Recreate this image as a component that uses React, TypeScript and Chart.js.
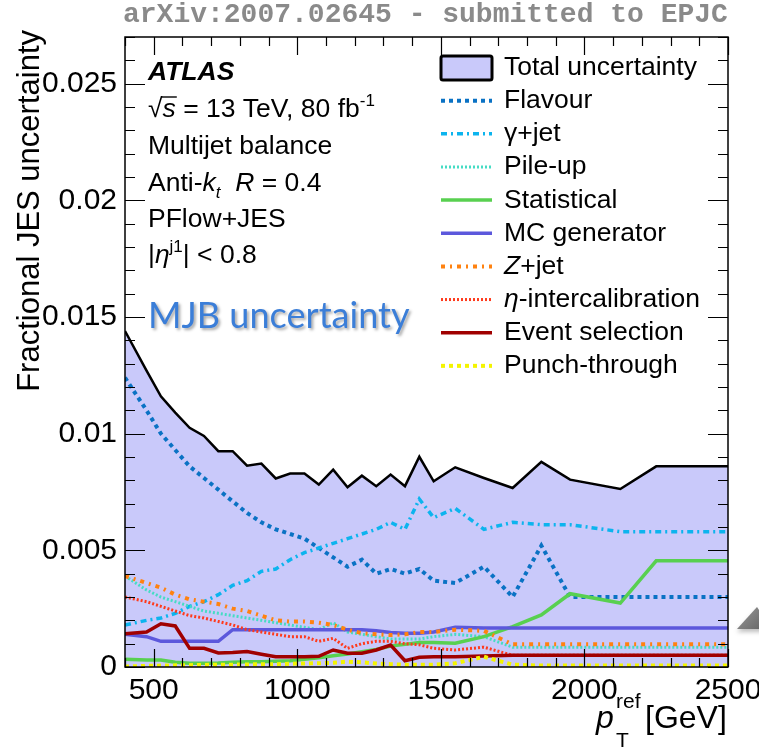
import React, { useEffect, useRef } from "react";
import { Chart, registerables } from "chart.js";

Chart.register(...registerables);

// Jet pT bin centres (GeV)
const PT = [400, 475, 525, 575, 625, 675, 725, 775, 825, 875, 925, 975, 1025, 1075, 1125, 1175, 1225, 1275, 1325, 1375, 1425, 1475, 1550, 1650, 1750, 1850, 1950, 2125, 2250, 2500];

const TOTAL = [0.0144, 0.0127, 0.0116, 0.0109, 0.01025, 0.0099, 0.00925, 0.00925, 0.00863, 0.00872, 0.00808, 0.00829, 0.00829, 0.00782, 0.00846, 0.0077, 0.0082, 0.00775, 0.00825, 0.00775, 0.00901, 0.00796, 0.00856, 0.0081, 0.00767, 0.00879, 0.00803, 0.00763, 0.0086, 0.0086];
const FLAVOUR = [0.0124, 0.011, 0.01, 0.0093, 0.0086, 0.0081, 0.0076, 0.0071, 0.0066, 0.0062, 0.0059, 0.0057, 0.0055, 0.0051, 0.0047, 0.0043, 0.0046, 0.004, 0.0042, 0.004, 0.0042, 0.0037, 0.0036, 0.0043, 0.003, 0.0052, 0.003, 0.003, 0.003, 0.003];
const GAMMA_JET = [0.0018, 0.002, 0.0021, 0.0023, 0.0026, 0.0028, 0.0031, 0.0035, 0.0037, 0.0041, 0.0042, 0.0046, 0.0049, 0.0051, 0.0053, 0.0055, 0.0057, 0.0059, 0.0062, 0.0059, 0.0072, 0.0064, 0.0068, 0.0059, 0.0062, 0.0061, 0.0061, 0.0058, 0.0058, 0.0058];
const PILE_UP = [0.0039, 0.0033, 0.003, 0.0028, 0.0026, 0.0024, 0.0023, 0.0022, 0.0021, 0.002, 0.0019, 0.0018, 0.0017, 0.0016, 0.0019, 0.0015, 0.0014, 0.0013, 0.0012, 0.0012, 0.0012, 0.0013, 0.0014, 0.0013, 0.00085, 0.00085, 0.00085, 0.00085, 0.00085, 0.00085];
const STATISTICAL = [0.00033, 0.0003, 0.0003, 0.0002, 0.00016, 0.00016, 0.00017, 0.0002, 0.00022, 0.00023, 0.00025, 0.00027, 0.00033, 0.0004, 0.00048, 0.00056, 0.00065, 0.00075, 0.0009, 0.00097, 0.00105, 0.00105, 0.00102, 0.0013, 0.00173, 0.00223, 0.00314, 0.00274, 0.00455, 0.00455];
const MC_GENERATOR = [0.0014, 0.0013, 0.0011, 0.0011, 0.0011, 0.0011, 0.0011, 0.0016, 0.0016, 0.0016, 0.0016, 0.0016, 0.0016, 0.0016, 0.0016, 0.0016, 0.0016, 0.00155, 0.00148, 0.00145, 0.00145, 0.0015, 0.0017, 0.00167, 0.00167, 0.00167, 0.00167, 0.00167, 0.00167, 0.00167];
const Z_JET = [0.0039, 0.0036, 0.0034, 0.0031, 0.0029, 0.0028, 0.0027, 0.0025, 0.0024, 0.0022, 0.002, 0.00195, 0.00195, 0.0019, 0.0018, 0.0016, 0.00145, 0.0014, 0.00137, 0.0014, 0.0015, 0.0015, 0.0016, 0.00155, 0.00097, 0.00097, 0.00097, 0.00097, 0.00097, 0.00097];
const ETA_INTERCAL = [0.003, 0.0028, 0.0026, 0.0024, 0.0022, 0.0021, 0.00195, 0.0018, 0.0016, 0.0015, 0.0014, 0.0013, 0.0013, 0.0011, 0.00123, 0.0008, 0.001, 0.0011, 0.0011, 0.001, 0.00095, 0.0008, 0.00073, 0.00085, 0.0005, 0.0005, 0.0005, 0.0005, 0.0005, 0.0005];
const EVENT_SELECTION = [0.00142, 0.0015, 0.00185, 0.00176, 0.0008, 0.0008, 0.0006, 0.00062, 0.00066, 0.00055, 0.00044, 0.00044, 0.00044, 0.00046, 0.00073, 0.00059, 0.00059, 0.00073, 0.00094, 0.00027, 0.00042, 0.00044, 0.00044, 0.00047, 0.0005, 0.0005, 0.0005, 0.0005, 0.0005, 0.0005];
const PUNCH_THROUGH = [0.00002, 0.00005, 0.00006, 0.00007, 0.00008, 0.00009, 0.0001, 0.0001, 0.00011, 0.00012, 0.00012, 0.00014, 0.00015, 0.00016, 0.00018, 0.00023, 0.0002, 0.00015, 0.00012, 0.0001, 0.0001, 0.0001, 0.00016, 0.00044, 0.0001, 0.00006, 0.00006, 0.00006, 0.00006, 0.00006];

const X_TICKS = [500, 1000, 1500, 2000, 2500];
const X_TICK_LABELS = ["500", "1000", "1500", "2000", "2500"];
const Y_TICKS = [0, 0.005, 0.01, 0.015, 0.02, 0.025];
const Y_TICK_LABELS = ["0", "0.005", "0.01", "0.015", "0.02", "0.025"];

const X_MIN = 400;
const X_MAX = 2500;
const Y_MIN = 0;
const Y_MAX = 0.027;
const X_MINOR_STEP = 100;
const X_MAJOR_STEP = 500;
const Y_MINOR_STEP = 0.001;
const Y_MAJOR_EVERY = 5;

const SANS = '"Liberation Sans", Arial, Helvetica, sans-serif';
const FILL = "rgb(201,201,250)";

type Style = { label: string; values: number[]; color: string; dash: number[]; width: number };

const COMPONENTS: Style[] = [
  { label: "Flavour", values: FLAVOUR, color: "#0a72c4", dash: [4, 4], width: 4 },
  { label: "γ+jet", values: GAMMA_JET, color: "#0cb4ee", dash: [6, 4, 2, 4], width: 3.5 },
  { label: "Pile-up", values: PILE_UP, color: "#46dcc4", dash: [2, 2], width: 3 },
  { label: "Statistical", values: STATISTICAL, color: "#58d050", dash: [], width: 3.5 },
  { label: "MC generator", values: MC_GENERATOR, color: "#5c58dc", dash: [], width: 3.5 },
  { label: "Z+jet", values: Z_JET, color: "#ff8210", dash: [4, 5, 2, 5], width: 4 },
  { label: "η-intercalibration", values: ETA_INTERCAL, color: "#ff3a1c", dash: [2, 2], width: 3 },
  { label: "Event selection", values: EVENT_SELECTION, color: "#a00000", dash: [], width: 3.5 },
  { label: "Punch-through", values: PUNCH_THROUGH, color: "#f4f400", dash: [4, 4], width: 4 },
];

const toPoints = (vals: number[]) => PT.map((x, i) => ({ x, y: vals[i] }));

type Run = { t: string; font: string; dy?: number; over?: boolean };

function drawRuns(ctx: CanvasRenderingContext2D, x: number, y: number, runs: Run[]) {
  let cx = x;
  for (const r of runs) {
    ctx.font = r.font;
    ctx.fillText(r.t, cx, y + (r.dy || 0));
    const w = ctx.measureText(r.t).width;
    if (r.over) {
      ctx.save();
      ctx.lineWidth = 1.4;
      ctx.beginPath();
      ctx.moveTo(cx - 1, y - 20);
      ctx.lineTo(cx + w + 1, y - 20);
      ctx.stroke();
      ctx.restore();
    }
    cx += w;
  }
  return cx;
}

const decorPlugin = {
  id: "atlasDecor",
  afterDraw(chart: any) {
    const { ctx, chartArea: a, scales } = chart;
    const xs = scales.x;
    const ys = scales.y;
    ctx.save();

    // frame
    ctx.strokeStyle = "#000";
    ctx.lineWidth = 1.5;
    ctx.strokeRect(a.left, a.top, a.right - a.left, a.bottom - a.top);

    // inward ticks on all four sides
    ctx.lineWidth = 1.2;
    ctx.beginPath();
    for (let v = X_MIN; v <= X_MAX; v += X_MINOR_STEP) {
      const px = Math.round(xs.getPixelForValue(v)) + 0.5;
      const len = v % X_MAJOR_STEP === 0 ? 18 : 9;
      ctx.moveTo(px, a.bottom);
      ctx.lineTo(px, a.bottom - len);
      ctx.moveTo(px, a.top);
      ctx.lineTo(px, a.top + len);
    }
    const nY = Math.round((Y_MAX - Y_MIN) / Y_MINOR_STEP);
    for (let k = 0; k <= nY; k++) {
      const py = Math.round(ys.getPixelForValue(Y_MIN + k * Y_MINOR_STEP)) + 0.5;
      const len = k % Y_MAJOR_EVERY === 0 ? 20 : 10;
      ctx.moveTo(a.left, py);
      ctx.lineTo(a.left + len, py);
      ctx.moveTo(a.right, py);
      ctx.lineTo(a.right - len, py);
    }
    ctx.stroke();

    ctx.fillStyle = "#000";
    ctx.textAlign = "left";
    ctx.textBaseline = "alphabetic";

    // y axis title
    ctx.save();
    ctx.translate(30, 30);
    ctx.rotate(-Math.PI / 2);
    ctx.textAlign = "right";
    ctx.textBaseline = "middle";
    ctx.font = `31px ${SANS}`;
    ctx.fillText("Fractional JES uncertainty", 0, 0);
    ctx.restore();

    // x axis title
    const xb = 728;
    ctx.textAlign = "left";
    ctx.font = `italic 32px ${SANS}`;
    ctx.fillText("p", 596, xb);
    ctx.font = `21px ${SANS}`;
    ctx.fillText("ref", 616, xb - 20);
    ctx.fillText("T", 616, xb + 19);
    ctx.font = `32px ${SANS}`;
    ctx.fillText("[GeV]", 645, xb);

    // header
    ctx.fillStyle = "#8a8a8a";
    ctx.font = `bold 28px "Liberation Mono", "DejaVu Sans Mono", monospace`;
    ctx.fillText("arXiv:2007.02645 - submitted to EPJC", 123, 22);

    // ATLAS label block
    ctx.fillStyle = "#000";
    const lx = 148;
    const f = `26.5px ${SANS}`;
    const fi = `italic 26.5px ${SANS}`;
    const fs = `17px ${SANS}`;
    drawRuns(ctx, lx, 80, [{ t: "ATLAS", font: `bold italic 26.5px ${SANS}` }]);
    drawRuns(ctx, lx, 117, [
      { t: "√", font: f },
      { t: "s", font: fi, over: true },
      { t: " = 13 TeV, 80 fb", font: f },
      { t: "-1", font: fs, dy: -11 },
    ]);
    drawRuns(ctx, lx, 153.5, [{ t: "Multijet balance", font: f }]);
    drawRuns(ctx, lx, 190.5, [
      { t: "Anti-", font: f },
      { t: "k", font: fi },
      { t: "t", font: `italic 17px ${SANS}`, dy: 7 },
      { t: "  ", font: f },
      { t: "R", font: fi },
      { t: " = 0.4", font: f },
    ]);
    drawRuns(ctx, lx, 227, [{ t: "PFlow+JES", font: f }]);
    drawRuns(ctx, lx, 263, [
      { t: "|", font: f },
      { t: "η", font: fi },
      { t: "j1", font: fs, dy: -11 },
      { t: "| < 0.8", font: f },
    ]);

    // highlighted caption
    ctx.save();
    const cap = "MJB uncertainty";
    ctx.font = `36px Lato, "Open Sans", sans-serif`;
    const cw = ctx.measureText(cap).width;
    const size = (36 * 262) / cw;
    ctx.font = `${size.toFixed(1)}px Lato, "Open Sans", sans-serif`;
    ctx.shadowColor = "rgba(0,0,0,0.35)";
    ctx.shadowBlur = 3;
    ctx.shadowOffsetX = 2;
    ctx.shadowOffsetY = 2;
    ctx.fillStyle = "#3b7ed8";
    ctx.fillText(cap, 148, 328);
    ctx.restore();

    // legend
    const legX = 441;
    const legW = 51;
    const textX = 504;
    const base0 = 75;
    const step = 33.15;
    const datasets = chart.data.datasets;
    datasets.forEach((ds: any, i: number) => {
      const by = base0 + step * i;
      const cy = by - 7.5;
      if (ds.fill) {
        ctx.save();
        ctx.fillStyle = ds.backgroundColor;
        ctx.strokeStyle = ds.borderColor;
        ctx.lineWidth = 3;
        ctx.beginPath();
        (ctx as any).roundRect(legX, cy - 11.5, legW, 24, 2);
        ctx.fill();
        ctx.stroke();
        ctx.restore();
      } else {
        ctx.save();
        ctx.strokeStyle = ds.borderColor;
        ctx.lineWidth = ds.borderWidth;
        ctx.setLineDash(ds.borderDash || []);
        ctx.beginPath();
        ctx.moveTo(legX, cy);
        ctx.lineTo(legX + legW, cy);
        ctx.stroke();
        ctx.restore();
      }
      ctx.fillStyle = "#000";
      const label: string = ds.label;
      if (/^[Zη]/.test(label)) {
        drawRuns(ctx, textX, by, [
          { t: label[0], font: fi },
          { t: label.slice(1), font: f },
        ]);
      } else {
        drawRuns(ctx, textX, by, [{ t: label, font: f }]);
      }
    });

    // side marker
    const grad = ctx.createLinearGradient(737, 607, 759, 629);
    grad.addColorStop(0, "#9a9a9a");
    grad.addColorStop(1, "#6a6a6a");
    ctx.save();
    ctx.shadowColor = "rgba(0,0,0,0.25)";
    ctx.shadowBlur = 4;
    ctx.shadowOffsetY = 3;
    ctx.fillStyle = grad;
    ctx.beginPath();
    ctx.moveTo(737, 629);
    ctx.lineTo(757, 607);
    ctx.lineTo(772, 629);
    ctx.closePath();
    ctx.fill();
    ctx.restore();

    ctx.restore();
  },
};

export default function App() {
  const ref = useRef<HTMLCanvasElement>(null);

  useEffect(() => {
    if (!ref.current) return;
    const n = COMPONENTS.length;
    const datasets: any[] = [
      {
        label: "Total uncertainty",
        data: toPoints(TOTAL),
        borderColor: "#000",
        backgroundColor: FILL,
        borderWidth: 2.5,
        fill: "origin",
        pointRadius: 0,
        tension: 0,
        order: n + 5,
      },
      ...COMPONENTS.map((c, i) => ({
        label: c.label,
        data: toPoints(c.values),
        borderColor: c.color,
        backgroundColor: c.color,
        borderWidth: c.width,
        borderDash: c.dash,
        borderCapStyle: "butt",
        fill: false,
        pointRadius: 0,
        tension: 0,
        order: n - i,
      })),
    ];

    const chart = new Chart(ref.current, {
      type: "line",
      data: { datasets },
      options: {
        responsive: false,
        animation: false,
        events: [],
        layout: { padding: { left: 0, right: 31, top: 37, bottom: 0 } },
        plugins: {
          legend: { display: false },
          tooltip: { enabled: false },
          title: { display: false },
        },
        scales: {
          x: {
            type: "linear",
            min: X_MIN,
            max: X_MAX,
            grid: { display: false, drawTicks: false },
            border: { display: false },
            afterBuildTicks: (s: any) => {
              s.ticks = X_TICKS.map((v) => ({ value: v }));
            },
            afterFit: (s: any) => {
              s.height = 83;
              s.paddingLeft = 0;
              s.paddingRight = 0;
            },
            ticks: {
              autoSkip: false,
              maxRotation: 0,
              padding: 6,
              color: "#000",
              font: { family: SANS, size: 30 },
              callback: (v: any) => X_TICK_LABELS[X_TICKS.indexOf(Number(v))] ?? "",
            },
          },
          y: {
            type: "linear",
            min: Y_MIN,
            max: Y_MAX,
            grid: { display: false, drawTicks: false },
            border: { display: false },
            afterBuildTicks: (s: any) => {
              s.ticks = Y_TICKS.map((v) => ({ value: v }));
            },
            afterFit: (s: any) => {
              s.width = 125;
              s.paddingTop = 0;
              s.paddingBottom = 0;
            },
            ticks: {
              autoSkip: false,
              padding: 8,
              color: "#000",
              font: { family: SANS, size: 30 },
              callback: (v: any) => {
                const idx = Y_TICKS.findIndex((t) => Math.abs(t - Number(v)) < 1e-9);
                return idx >= 0 ? Y_TICK_LABELS[idx] : "";
              },
            },
          },
        },
      },
      plugins: [decorPlugin],
    } as any);

    return () => chart.destroy();
  }, []);

  return (
    <div style={{ position: "absolute", left: 0, top: 0, width: 759, height: 750, background: "#fff" }}>
      <canvas ref={ref} width={759} height={750} style={{ display: "block", width: 759, height: 750 }} />
    </div>
  );
}
